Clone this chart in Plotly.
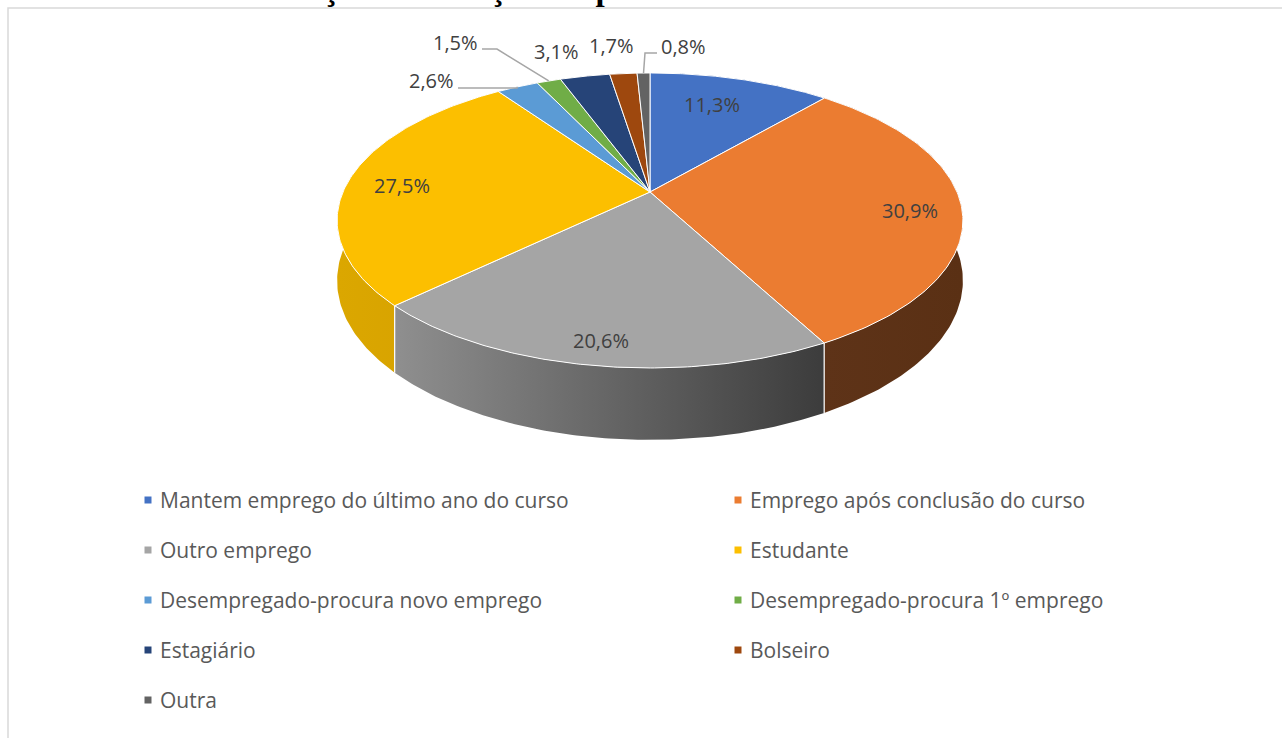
import numpy as np
import plotly.graph_objects as go

# ---------------- data ----------------
categories = [
    "Mantem emprego do último ano do curso",
    "Emprego após conclusão do curso",
    "Outro emprego",
    "Estudante",
    "Desempregado-procura novo emprego",
    "Desempregado-procura 1º emprego",
    "Estagiário",
    "Bolseiro",
    "Outra",
]
values = [11.3, 30.9, 20.6, 27.5, 2.6, 1.5, 3.1, 1.7, 0.8]
title_text = "GRÁFICO 7 Distribuição da situação ocupacional"

# ---------------- styles ----------------
top_colors = ["#4472C4", "#EB7C31", "#A5A5A5", "#FCBF00", "#5B9BD5",
              "#70AD47", "#264478", "#9E480E", "#636363"]
side_colors = [
    ["#2b4a82", "#2b4a82"], ["#5e3318", "#5a3014"], ["#8f8f8f", "#3c3c3c"],
    ["#dba700", "#d49f00"], ["#3d6a94", "#3d6a94"], ["#4a7530", "#4a7530"],
    ["#1a2f52", "#1a2f52"], ["#5e2a08", "#5e2a08"], ["#3b3b3b", "#3b3b3b"],
]
# label centres (pixel coords) and leader elbows
label_xy = [(712, 104), (910, 210), (601, 340), (402, 185), (431, 80),
            (455, 42), (556, 51), (611, 45), (683, 46)]
leader = [None, None, None, None, [(458, 88), (517, 88)],
          [(482, 49), (497, 49)], None, None, [(657, 53), (645, 53)]]

W, H_PX = 1282, 738
CX, CY, A, B, D, DEPTH = 650, 192, 307, 142, 5.18, 58
FONT = "Open Sans"


def proj(theta, r=1.0, dz=0.0):
    u = r * np.sin(theta)
    v = r * np.cos(theta)
    s = D / (D + v)
    return CX + A * u * s, CY - B * v * s + dz * s


fig = go.Figure()

vals = np.array(values, dtype=float)
frac = vals / vals.sum()
ends = np.cumsum(frac) * 2 * np.pi
starts = ends - frac * 2 * np.pi

# side walls (far to near)
order = np.argsort(-np.cos((starts + ends) / 2))
for i in order:
    th = np.linspace(starts[i], ends[i], 120)
    xt, yt = proj(th)
    xb, yb = proj(th[::-1], dz=DEPTH)
    xs = np.concatenate([xt, xb, xt[:1]])
    ys = np.concatenate([yt, yb, yt[:1]])
    fig.add_trace(go.Scatter(
        x=xs, y=ys, mode="lines", fill="toself",
        line=dict(width=0, color=side_colors[i][0]),
        fillgradient=dict(type="horizontal",
                          colorscale=[[0, side_colors[i][0]], [1, side_colors[i][1]]]),
        hoverinfo="skip", showlegend=False))

# white separators on visible side walls
for i in range(len(vals)):
    a = ends[i]
    if np.cos(a) < -0.2:
        x0, y0 = proj(a)
        x1, y1 = proj(a, dz=DEPTH)
        fig.add_trace(go.Scatter(x=[x0, x1], y=[y0, y1], mode="lines",
                                 line=dict(color="white", width=1.2),
                                 hoverinfo="skip", showlegend=False))

# top faces
for i in range(len(vals)):
    th = np.linspace(starts[i], ends[i], 120)
    xt, yt = proj(th)
    xs = np.concatenate([[CX], xt, [CX]])
    ys = np.concatenate([[CY], yt, [CY]])
    fig.add_trace(go.Scatter(
        x=xs, y=ys, mode="lines", fill="toself", fillcolor=top_colors[i],
        line=dict(width=1, color="white"), hoverinfo="text",
        text=f"{categories[i]}: {values[i]}%", showlegend=False))

# leader lines
for i in range(len(vals)):
    if leader[i] is None:
        continue
    mid = (starts[i] + ends[i]) / 2
    px, py = proj(mid)
    pts = leader[i] + [(px, py)]
    fig.add_trace(go.Scatter(x=[p[0] for p in pts], y=[p[1] for p in pts],
                             mode="lines", line=dict(color="#a6a6a6", width=1.5),
                             hoverinfo="skip", showlegend=False))

# data labels
for i in range(len(vals)):
    fig.add_annotation(x=label_xy[i][0], y=label_xy[i][1], xref="x", yref="y",
                       text=f"{values[i]:.1f}%".replace(".", ","), showarrow=False,
                       font=dict(family=FONT, size=20, color="#404040"))

# legend (2 columns)
leg_x0 = [148, 738]
leg_y0, leg_dy = 500, 50
lx = [leg_x0[k % 2] for k in range(len(categories))]
ly = [leg_y0 + (k // 2) * leg_dy for k in range(len(categories))]
fig.add_trace(go.Scatter(x=lx, y=ly, mode="markers",
                         marker=dict(symbol="square", size=7, color=top_colors),
                         hoverinfo="skip", showlegend=False))
for k, name in enumerate(categories):
    fig.add_annotation(x=lx[k] + 10, y=ly[k], xref="x", yref="y", text=name,
                       showarrow=False, xanchor="left",
                       font=dict(family=FONT, size=21, color="#595959"))

# clipped title at top (the reference shows only its lower edge)
fig.add_annotation(x=6, y=0, xref="x", yref="y", text=f"<b>{title_text}</b>",
                   showarrow=False, xanchor="left", yanchor="bottom", yshift=-9,
                   font=dict(family="Liberation Serif", size=33, color="#000000"))

# chart area border
fig.add_shape(type="rect", x0=8, y0=8, x1=W + 10, y1=H_PX + 10, xref="x", yref="y",
              line=dict(color="#d9d9d9", width=1.5), fillcolor="rgba(0,0,0,0)",
              layer="below")

fig.update_layout(
    width=W, height=H_PX, margin=dict(l=0, r=0, t=0, b=0),
    paper_bgcolor="white", plot_bgcolor="white",
    xaxis=dict(range=[0, W], visible=False, fixedrange=True),
    yaxis=dict(range=[H_PX, 0], visible=False, fixedrange=True),
    showlegend=False,
)

fig.write_html("out.html", config={"displayModeBar": False},
               post_script="document.body.style.margin='0';document.body.style.overflow='hidden';")
